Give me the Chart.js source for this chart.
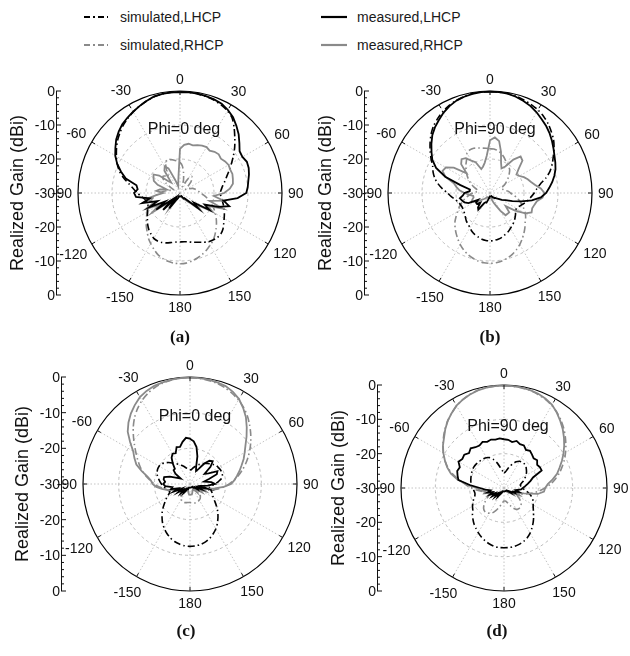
<!DOCTYPE html>
<html>
<head>
<meta charset="utf-8">
<script src="https://cdn.jsdelivr.net/npm/chart.js@4.4.0/dist/chart.umd.min.js"></script>
<style>
  body { margin: 0; background: #fff; }
  #page { position: relative; width: 630px; height: 656px; overflow: hidden; background: #fff;
          font-family: "Liberation Sans", Arial, sans-serif; }
  canvas { position: absolute; }
  .leg { position: absolute; font-size: 14px; color: #1a1a1a; display: flex; align-items: center; white-space: nowrap; }
</style>
</head>
<body>
<div id="page">
  <div class="leg" style="left:84px;top:9px"><svg width="24" height="4" style="margin-right:12px"><line x1="0" y1="2" x2="24" y2="2" stroke="#000" stroke-width="2" stroke-dasharray="6,3,2,3"/></svg>simulated,LHCP</div>
  <div class="leg" style="left:84px;top:37px"><svg width="24" height="4" style="margin-right:12px"><line x1="0" y1="2" x2="24" y2="2" stroke="#8a8a8a" stroke-width="2" stroke-dasharray="6,3,2,3"/></svg>simulated,RHCP</div>
  <div class="leg" style="left:321px;top:9px"><svg width="26" height="4" style="margin-right:10px"><line x1="0" y1="2" x2="26" y2="2" stroke="#000" stroke-width="2.2"/></svg>measured,LHCP</div>
  <div class="leg" style="left:321px;top:37px"><svg width="26" height="4" style="margin-right:10px"><line x1="0" y1="2" x2="26" y2="2" stroke="#8a8a8a" stroke-width="2.2"/></svg>measured,RHCP</div>

  <canvas id="chartA" width="330" height="290" style="left:0;top:62px"></canvas>
  <canvas id="chartB" width="330" height="290" style="left:300px;top:62px"></canvas>
  <canvas id="chartC" width="330" height="301" style="left:0;top:355px"></canvas>
  <canvas id="chartD" width="330" height="301" style="left:300px;top:355px"></canvas>
</div>
<script>
// theta in degrees, 0 at the top, clockwise (180..355 = -180..-5)
const angles = [0,5,10,15,20,25,30,35,40,45,50,55,60,65,70,75,80,85,90,95,100,105,110,115,
  120,125,130,135,140,145,150,155,160,165,170,175,180,185,190,195,200,205,210,215,220,225,230,235,
  240,245,250,255,260,265,270,275,280,285,290,295,300,305,310,315,320,325,330,335,340,345,350,355];
const angleTicks = [0,30,60,90,120,150,180,-150,-120,-90,-60,-30];
const gainTickLabels = [0,-10,-20,-30,-20,-10,0];

// (a) Phi=0 deg
const measLhcpA = [-0.3,-0.3,-0.3,-0.5,-0.7,-1.0,-1.8,-2.8,-4.2,-5.6,-7.2,-8.6,
  -8.8,-8.3,-8.5,-9.0,-9.6,-10.0,-10.5,-13,-17,-15,-18,-22,
  -20,-25,-23,-27,-28,-28,-28.5,-29,-29,-29,-29,-29,
  -29,-29,-29,-29,-28.5,-28,-27.5,-24.5,-28,-23,-27,-21.5,
  -25,-20,-23,-18.5,-21,-17,-16.5,-17.5,-17,-13.5,-11.5,-9.6,
  -8.0,-6.8,-5.5,-4.5,-3.6,-3.0,-2.4,-1.8,-1.2,-0.6,-0.4,-0.3];
const measRhcpA = [-17,-15.8,-15.3,-15.5,-15.0,-14.6,-14.4,-14.8,-14.2,-13.9,-14.3,-13.8,
  -13.5,-13.7,-13.6,-13.9,-14.2,-15.3,-17,-20,-17,-21,-16.5,-21,
  -19,-24,-22,-26,-27,-28,-28,-28.5,-29,-29,-29,-29,
  -29,-29,-29,-29,-28.5,-28,-27,-24.5,-27,-23,-26,-20,
  -23,-19,-22,-21,-20,-23,-25,-23,-24,-26,-23,-21.5,
  -21,-20.5,-22,-25,-26,-22,-21,-22,-26,-28,-27,-25];
const simLhcpA = [-0.3,-0.3,-0.4,-0.6,-0.9,-1.4,-2.1,-3.2,-5.2,-7.2,-9,-10.8,
  -12.5,-14,-15.3,-16.3,-17.2,-17.8,-18.2,-17.9,-17.4,-16.8,-16.2,-15.6,
  -15,-14.3,-13.5,-13,-12.9,-13.1,-13.4,-14,-14.6,-15,-15.4,-15.6,
  -15.6,-15.5,-15.2,-14.8,-14.5,-14.4,-14.6,-15.2,-15.8,-16.6,-17.5,-18.3,
  -19,-19.5,-20,-20,-19.5,-18.5,-17.5,-16.3,-14.8,-12.8,-11,-9.6,
  -8.4,-7.2,-6,-5,-4,-3.2,-2.5,-1.8,-1.2,-0.7,-0.4,-0.3];
const simRhcpA = [-21,-22,-24,-26,-28,-27,-25,-24,-24.5,-25.5,-27,-28,
  -28,-27,-26,-25.5,-25,-24.5,-24,-23,-22,-21,-20,-19,
  -18,-17,-16,-15,-14,-13,-12.3,-11.5,-10.8,-10.2,-9.7,-9.3,
  -9.2,-9.3,-9.6,-10.1,-10.8,-11.8,-12.8,-13.8,-15,-16,-17,-18,
  -18.8,-19.5,-20,-21,-22,-23,-24,-25,-26,-27,-28,-28,
  -27,-25,-23.5,-23,-23.5,-24,-22,-20,-19.5,-19.8,-20.2,-20.6];

// (b) Phi=90 deg
const measLhcpB = [-0.2,-0.2,-0.3,-0.7,-1.2,-1.8,-2.6,-3.5,-4.3,-5.2,-6.2,-7.2,
  -8.1,-8.8,-9.5,-10.4,-11.4,-12.5,-13.5,-15,-17.5,-20.5,-23,-25,
  -26,-27,-27.5,-28,-28,-28.5,-28.5,-29,-29,-29,-29,-29,
  -29,-29,-28.5,-28,-27,-27,-26.5,-24,-24.5,-26,-25,-25,
  -26,-23,-22,-21.5,-21,-22,-22.5,-24,-24,-21,-16,-12.5,
  -10.4,-9,-7.5,-6,-4.8,-3.8,-2.7,-1.8,-1.1,-0.7,-0.4,-0.2];
const measRhcpB = [-14.5,-13.6,-14.5,-17.5,-20.5,-22,-21,-18,-16,-16.5,-19,-20.5,
  -20,-19,-18.2,-17.5,-16.5,-15,-14,-14.5,-16,-16.5,-16.8,-16.5,
  -18,-21,-24,-22,-22,-22,-24,-26,-27,-28,-28.5,-28.5,
  -28.5,-28.5,-28.5,-28.5,-28.5,-28.5,-28.5,-28.5,-28,-27.5,-27,-26,
  -25,-24,-24.5,-25,-25,-24,-22.5,-21,-20,-19,-16,-14.6,
  -15,-17,-21,-18,-17,-17.5,-19,-20,-22.5,-22,-21,-19];
const simLhcpB = [-0.2,-0.2,-0.3,-0.5,-0.9,-1.3,-1.8,-2.5,-3.4,-4.5,-5.6,-7,
  -8.5,-9.8,-11.2,-13,-15,-16.2,-17,-17.8,-18.5,-19.2,-20,-20.6,
  -21,-20.8,-20.2,-19.6,-19,-18.5,-18,-17.4,-17,-16.5,-16.2,-16,
  -15.9,-16,-16.2,-16.6,-17,-17.5,-18.2,-18.8,-19.2,-19.8,-20.3,-20.6,
  -20.8,-20.8,-20.6,-20.2,-19.5,-18.5,-17.5,-16,-14.5,-13.2,-12.2,-11.4,
  -10,-8.5,-7,-5.5,-4.2,-3.2,-2.3,-1.6,-1,-0.6,-0.3,-0.2];
const simRhcpB = [-17,-17,-17.3,-17.8,-18.5,-19.3,-20,-20.5,-21,-22,-23,-24,
  -25,-26,-26.5,-26,-25.5,-24.5,-24,-23,-22,-21,-20,-19,
  -18,-17.2,-16.5,-15.5,-14.5,-13.5,-12.5,-11.6,-10.8,-10.2,-9.7,-9.4,
  -9.3,-9.4,-9.7,-10.2,-10.8,-11.6,-12.5,-13.5,-14.5,-15.5,-16.5,-17.8,
  -19,-20,-21,-22,-23,-24,-25,-26,-26.5,-26,-25,-24,
  -23,-22,-21,-20,-19,-18,-16.5,-16,-16,-16.3,-16.6,-16.8];

// (c) Phi=0 deg
const measLhcpC = [-17.3,-18,-19.5,-22,-25,-26,-25,-23,-21.5,-21,-22.5,-25,
  -24,-21.5,-22,-24.5,-26,-24,-23,-25,-27,-25,-27.5,-26.5,
  -28,-27.5,-28.5,-28.5,-29,-29,-29,-29,-29,-29,-29,-29,
  -29,-29,-29,-29,-28.5,-28.5,-28,-27,-28,-26.5,-27.5,-26,
  -27.5,-25,-26.5,-24.5,-25,-23,-22.5,-23,-22.5,-22.5,-24,-26,
  -27,-25,-24,-24,-22.5,-21,-20.2,-20.5,-19,-19.2,-18,-17];
const measRhcpC = [-0.2,-0.2,-0.3,-0.5,-0.8,-1.5,-2.5,-4,-5.6,-7.5,-9.3,-11,
  -12.3,-13.4,-14.6,-15.6,-16.6,-17.5,-18.5,-20.5,-23,-25,-26,-25,
  -27,-26,-27.5,-28,-27,-28,-28.5,-28,-28,-27.5,-27,-27,
  -27,-27,-27.5,-28,-28.5,-28,-27.5,-28,-28,-27,-27.5,-26.5,
  -27,-25.5,-25,-23.5,-22,-20.5,-19.5,-19,-17.9,-16,-14,-12.8,
  -11.6,-9.5,-7.2,-5.6,-4.2,-3,-1.9,-1.2,-0.7,-0.5,-0.3,-0.2];
const simLhcpC = [-26,-26,-25.5,-25,-24.5,-24,-23.5,-23,-22.5,-22,-21.5,-21,
  -20.8,-20.6,-20.5,-20.6,-21,-22,-23,-24,-24.5,-24,-23.5,-23,
  -22.5,-21.5,-20.3,-19,-17.8,-16.6,-15.5,-14.6,-13.8,-13.2,-12.8,-12.6,
  -12.5,-12.6,-12.9,-13.3,-13.9,-14.7,-15.6,-16.6,-17.8,-19,-20.3,-21.5,
  -22.5,-23.5,-24,-23.5,-23,-22.5,-22,-21.5,-21,-20.5,-20.2,-20,
  -20,-20.2,-20.8,-21.5,-22.3,-23,-23.6,-24.2,-24.7,-25.2,-25.6,-25.9];
const simRhcpC = [-0.2,-0.3,-0.5,-0.8,-1.3,-2,-2.8,-3.8,-5,-6.4,-7.8,-9.2,
  -10.6,-12,-13.4,-14.8,-16.2,-17.6,-19,-20.5,-22,-23.5,-25,-26,
  -27,-27.5,-27,-26,-25.5,-25,-24.8,-24.6,-24.5,-24.5,-24.6,-24.7,
  -24.8,-24.8,-24.7,-24.6,-24.6,-24.8,-25,-25.5,-26,-27,-27.5,-27.5,
  -27,-26,-25,-23.8,-22.5,-21.2,-20,-18.8,-17.5,-16.2,-15,-13.8,
  -12.5,-11,-9.3,-7.5,-5.8,-4.3,-3,-2,-1.2,-0.7,-0.4,-0.2];

// (d) Phi=90 deg
const measLhcpD = [-15.8,-15.9,-16.4,-15.8,-16.4,-16.3,-17.2,-16.8,-17.3,-17.8,-17.4,-18.2,
  -17.9,-17.9,-21,-22,-23,-23.8,-24.5,-25,-26.5,-25.5,-27,-26.5,
  -28,-27.5,-28.5,-29,-29,-29,-29,-29,-29,-29,-29,-29,
  -29,-29,-29,-29,-29,-28.5,-28,-27,-28,-26.5,-27.5,-26,
  -27,-25.5,-26.5,-25,-26,-24.5,-23,-20,-16.5,-16,-15.5,-15.8,
  -14.7,-15.2,-14.9,-15.6,-14.9,-15.5,-15.7,-15.2,-15.7,-15.4,-15.7,-15.5];
const measRhcpD = [-0.2,-0.2,-0.3,-0.5,-0.8,-1.3,-2,-3.2,-4.5,-5.8,-7.2,-8.6,
  -10,-11.4,-12.8,-14,-15.6,-17.2,-18,-18.3,-20,-24,-26,-25,
  -27,-26.5,-28,-28,-28.5,-29,-29,-29,-29,-29,-29,-29,
  -29,-29,-29,-29,-29,-28.5,-28,-27.5,-28,-27,-27.5,-26,
  -27,-25,-26,-24,-24.5,-23,-22,-19.5,-16.3,-14,-12.4,-11,
  -9.6,-8.3,-7.2,-5.8,-4.5,-3.4,-2.3,-1.6,-1,-0.6,-0.3,-0.2];
const simLhcpD = [-25.5,-25.3,-24.5,-23.5,-22.5,-21.6,-21,-20.8,-20.8,-21,-21.5,-22,
  -22.6,-23.3,-24,-24.8,-25.2,-25,-24.6,-24,-23,-22,-21.2,-20.6,
  -20.2,-19.6,-18.8,-17.8,-16.8,-15.8,-14.8,-14,-13.4,-13,-12.7,-12.6,
  -12.6,-12.6,-12.8,-13.2,-13.7,-14.3,-15,-15.7,-16.4,-17.2,-18,-18.9,
  -19.4,-20,-20.6,-21.2,-21.4,-21.2,-20.8,-20.4,-20.2,-20,-19.8,-19.6,
  -19.4,-19.3,-19.3,-19.4,-19.5,-19.6,-19.8,-20.3,-21.2,-22.5,-24,-25];
const simRhcpD = [-0.2,-0.3,-0.4,-0.6,-1,-1.5,-2.2,-3.1,-4.2,-5.4,-6.7,-8,
  -9.3,-10.6,-12,-13.3,-14.8,-16.3,-18,-19.8,-21.6,-23.3,-24.6,-25.3,
  -25.5,-24.5,-23.5,-23,-22.7,-22.6,-22.8,-23.5,-24.5,-25.3,-26,-26.2,
  -26.2,-25.8,-25,-24,-23,-22,-21.5,-21.2,-21.2,-21.6,-22.4,-23.4,
  -24.4,-25.3,-25.7,-25,-23.8,-22.2,-20.5,-18.8,-16.8,-14.6,-12.6,-11,
  -9.6,-8.3,-7,-5.7,-4.5,-3.4,-2.4,-1.6,-1,-0.5,-0.3,-0.2];

const FONT = '"Liberation Sans", Arial, sans-serif';

// axes, angle labels and captions drawn round the radial scale
const polarDecor = {
  id: 'polarDecor',
  afterDraw(chart, args, o) {
    const ctx = chart.ctx;
    const r = chart.scales.r;
    const cx = r.xCenter, cy = r.yCenter, R = r.drawingArea;
    ctx.save();
    ctx.fillStyle = '#111';
    ctx.strokeStyle = '#111';

    // small ticks on the outer ring
    ctx.lineWidth = 1;
    angleTicks.forEach(a => {
      const idx = angles.indexOf((a + 360) % 360);
      const p1 = r.getPointPosition(idx, R);
      const p2 = r.getPointPosition(idx, R - 4);
      ctx.beginPath(); ctx.moveTo(p1.x, p1.y); ctx.lineTo(p2.x, p2.y); ctx.stroke();
    });

    // angle labels
    ctx.font = '14px ' + FONT;
    ctx.textAlign = 'center';
    ctx.textBaseline = 'middle';
    angleTicks.forEach(a => {
      const idx = angles.indexOf((a + 360) % 360);
      const txt = String(a);
      const w = ctx.measureText(txt).width;
      const th = a * Math.PI / 180;
      const off = 6 + (w / 2) * Math.abs(Math.sin(th)) + 6 * Math.abs(Math.cos(th));
      const p = r.getPointPosition(idx, R + off);
      ctx.fillText(txt, p.x, p.y + 1);
    });

    // left gain axis
    const ax = cx - R - o.axisGap;
    ctx.lineWidth = 1;
    ctx.beginPath(); ctx.moveTo(ax + 0.5, cy - R); ctx.lineTo(ax + 0.5, cy + R); ctx.stroke();
    ctx.textAlign = 'right';
    gainTickLabels.forEach((v, i) => {
      const d = r.getDistanceFromCenterForValue(v);
      const y = cy + (i < 3 ? -d : d);
      ctx.beginPath(); ctx.moveTo(ax, y); ctx.lineTo(ax + 5, y); ctx.stroke();
      ctx.fillText(String(v), ax - 1, y + 1);
      if (i < gainTickLabels.length - 1) {
        for (let k = 1; k < 5; k++) {
          const v2 = v + (i < 3 ? -2 * k : 2 * k);
          const d2 = r.getDistanceFromCenterForValue(v2);
          const y2 = cy + (i < 3 ? -d2 : d2);
          ctx.beginPath(); ctx.moveTo(ax, y2); ctx.lineTo(ax + 3, y2); ctx.stroke();
        }
      }
    });

    // axis title
    ctx.save();
    ctx.translate(ax - 38, cy);
    ctx.rotate(-Math.PI / 2);
    ctx.textAlign = 'center';
    ctx.font = '18px ' + FONT;
    ctx.fillText('Realized Gain (dBi)', 0, 0);
    ctx.restore();

    // phi label
    ctx.textAlign = 'center';
    ctx.font = '16px ' + FONT;
    ctx.fillText(o.phi, cx + o.phiDx, cy + o.phiDy);

    // sub caption
    ctx.font = 'bold 17px "Liberation Serif", "Times New Roman", serif';
    ctx.fillText(o.caption, cx + o.capDx, cy + o.capDy);
    ctx.restore();
  }
};

function makeChart(id, cx, cy, R, series, decor) {
  const cv = document.getElementById(id);
  const pad = { left: cx - R, top: cy - R, right: cv.width - cx - R, bottom: cv.height - cy - R };
  const dashDot = [7, 3, 1.5, 3];
  return new Chart(cv, {
    type: 'radar',
    data: {
      labels: angles,
      datasets: [
        { label: 'measured,LHCP', data: series[0], borderColor: '#000', borderWidth: 1.8, fill: false, tension: 0 },
        { label: 'measured,RHCP', data: series[1], borderColor: '#8a8a8a', borderWidth: 1.8, fill: false, tension: 0 },
        { label: 'simulated,LHCP', data: series[2], borderColor: '#000', borderWidth: 1.6, borderDash: dashDot, fill: false, tension: 0.25 },
        { label: 'simulated,RHCP', data: series[3], borderColor: '#8a8a8a', borderWidth: 1.6, borderDash: dashDot, fill: false, tension: 0.25 }
      ]
    },
    options: {
      responsive: false,
      animation: false,
      layout: { padding: pad },
      elements: { point: { radius: 0 } },
      plugins: { legend: { display: false }, tooltip: { enabled: false }, polarDecor: decor },
      scales: {
        r: {
          min: -30, max: 0,
          ticks: { display: false, stepSize: 10 },
          pointLabels: { display: false },
          grid: {
            circular: true,
            color: c => c.tick.value === 0 ? '#000' : '#b4b4b4',
            lineWidth: c => c.tick.value === 0 ? 1.2 : 0.9
          },
          border: { dash: c => c.tick.value === 0 ? [] : [3, 3] },
          angleLines: {
            color: '#bdbdbd',
            lineWidth: c => c.index % 6 === 0 ? 0.9 : 0,
            borderDash: [1.5, 2]
          }
        }
      }
    },
    plugins: [polarDecor]
  });
}

makeChart('chartA', 180, 131, 102, [measLhcpA, measRhcpA, simLhcpA, simRhcpA],
  { axisGap: 22, phi: 'Phi=0 deg', phiDx: 4, phiDy: -63, caption: '(a)', capDx: 0, capDy: 145 });
makeChart('chartB', 190, 131, 102, [measLhcpB, measRhcpB, simLhcpB, simRhcpB],
  { axisGap: 24, phi: 'Phi=90 deg', phiDx: 5, phiDy: -63, caption: '(b)', capDx: 0, capDy: 145 });
makeChart('chartC', 190, 129, 107, [measLhcpC, measRhcpC, simLhcpC, simRhcpC],
  { axisGap: 22, phi: 'Phi=0 deg', phiDx: 5, phiDy: -67, caption: '(c)', capDx: -4, capDy: 148 });
makeChart('chartD', 204, 133, 103, [measLhcpD, measRhcpD, simLhcpD, simRhcpD],
  { axisGap: 24, phi: 'Phi=90 deg', phiDx: 4, phiDy: -61, caption: '(d)', capDx: -7, capDy: 144 });
</script>
</body>
</html>
